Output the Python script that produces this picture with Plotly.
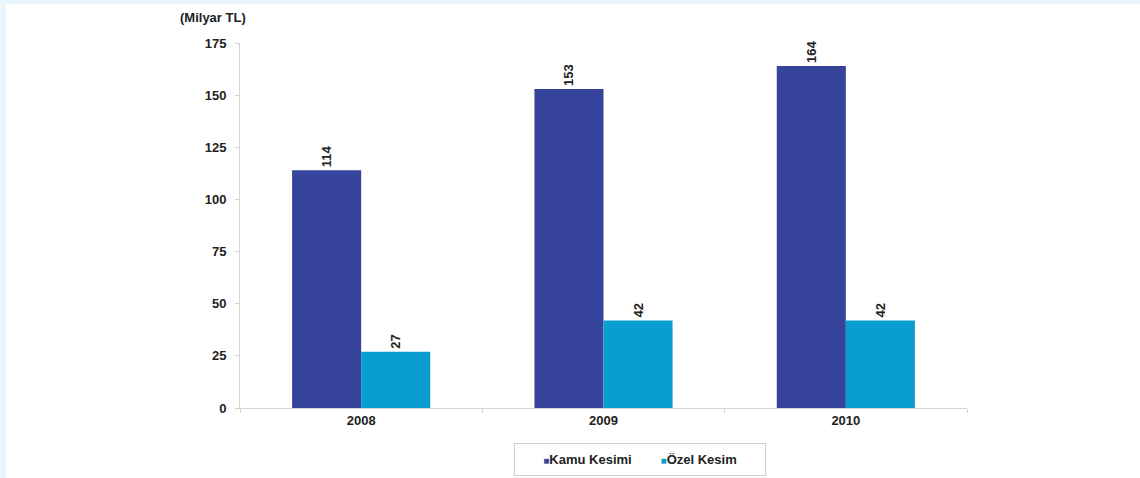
import plotly.graph_objects as go

# veriler
years = ["2008", "2009", "2010"]
kamu = [114, 153, 164]
ozel = [27, 42, 42]
y_ticks = [0, 25, 50, 75, 100, 125, 150, 175]

KAMU_COLOR = "#36449c"
OZEL_COLOR = "#0a9ed0"
FONT = "Liberation Sans, Arial, sans-serif"
FS = 13

fig = go.Figure()

fig.add_trace(go.Bar(
    x=years, y=kamu, name="Kamu Kesimi",
    marker=dict(color=KAMU_COLOR, line=dict(width=0)),
    text=[f"<b>{v}</b>" for v in kamu], textposition="outside",
    textangle=-90, textfont=dict(size=FS, color="#222"),
    cliponaxis=False, showlegend=False,
))
fig.add_trace(go.Bar(
    x=years, y=ozel, name="Özel Kesim",
    marker=dict(color=OZEL_COLOR, line=dict(width=0)),
    text=[f"<b>{v}</b>" for v in ozel], textposition="outside",
    textangle=-90, textfont=dict(size=FS, color="#222"),
    cliponaxis=False, showlegend=False,
))

# lejant: küçük kareli kutu
legend_text = (
    f"<span style='color:{KAMU_COLOR};font-size:10px'>■</span><b>Kamu Kesimi</b>"
    + "&nbsp;" * 8
    + f"<span style='color:{OZEL_COLOR};font-size:10px'>■</span><b>Özel Kesim</b>"
)

fig.update_layout(
    width=1140, height=478,
    margin=dict(l=240, r=173, t=43, b=70),
    paper_bgcolor="#ebf6fc",
    plot_bgcolor="white",
    font=dict(family=FONT, size=FS, color="#222"),
    barmode="group",
    bargap=0.43,
    bargroupgap=0,
    shapes=[dict(
        type="rect", xref="paper", yref="paper", layer="below",
        x0=-(240 - 6) / 726, x1=1 + 173 / 726,
        y0=-70 / 365, y1=1 + (43 - 4) / 365,
        fillcolor="white", line=dict(width=0),
    )],
    annotations=[
        dict(
            text="<b>(Milyar TL)</b>", xref="paper", yref="paper",
            x=(213 - 240) / 726, y=1 + (43 - 17) / 365,
            xanchor="center", yanchor="middle", showarrow=False,
            font=dict(size=FS, family=FONT, color="#222"),
        ),
        dict(
            text=legend_text, xref="paper", yref="paper",
            x=(639 - 240) / 726, y=-(459 - 408) / 365,
            xanchor="center", yanchor="middle", showarrow=False,
            font=dict(size=FS, family=FONT, color="#222"),
            bordercolor="#d0d0d0", borderwidth=1, borderpad=8,
            bgcolor="white", width=234,
        ),
    ],
)

fig.update_xaxes(
    type="category", showline=True, linecolor="#d3d3d3", linewidth=1,
    ticks="outside", tickson="boundaries", ticklen=4, tickcolor="#d3d3d3",
    showgrid=False, tickfont=dict(size=FS, family=FONT),
    tickvals=years, ticktext=[f"<b>{y}</b>" for y in years],
)
fig.update_yaxes(
    range=[0, 175], showline=True, linecolor="#d3d3d3", linewidth=1,
    ticks="outside", ticklen=4, tickcolor="#d3d3d3", showgrid=False,
    zeroline=False, tickvals=y_ticks, ticktext=[f"<b>{t}</b>" for t in y_ticks],
    tickfont=dict(size=FS, family=FONT), ticklabelstandoff=6,
)

fig.write_html(
    "out.html",
    config={"displayModeBar": False},
    post_script="document.body.style.margin='0';",
)
